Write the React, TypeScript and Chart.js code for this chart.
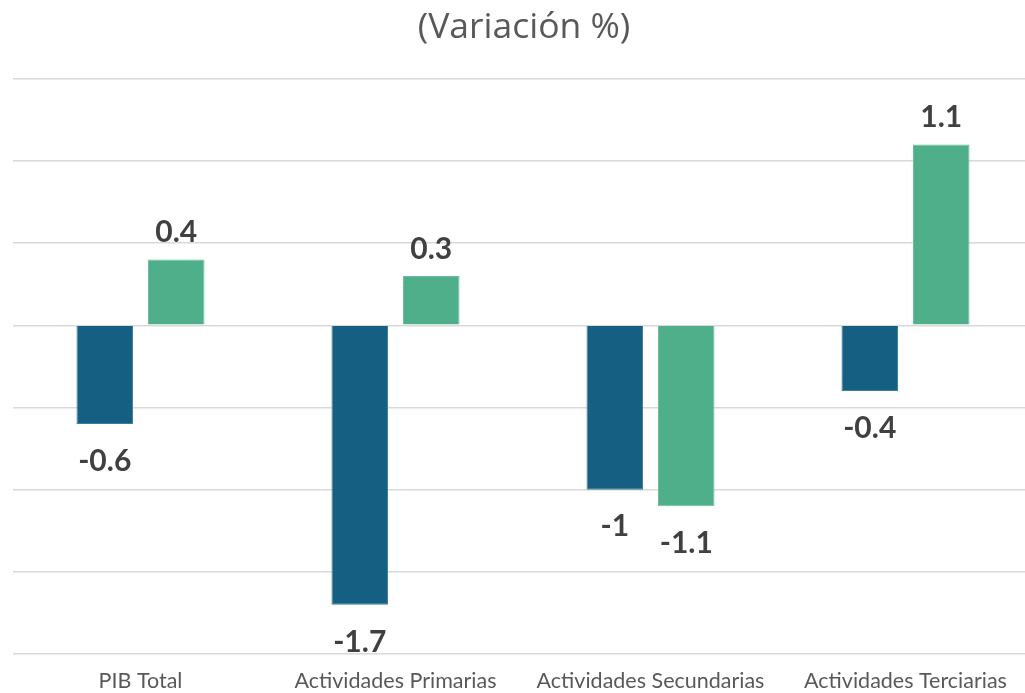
import React, { useEffect, useRef } from "react";
import { Chart, registerables } from "chart.js";

Chart.register(...registerables);

const categories = ["PIB Total", "Actividades Primarias", "Actividades Secundarias", "Actividades Terciarias"];
const seriesA = [-0.6, -1.7, -1, -0.4];
const seriesB = [0.4, 0.3, -1.1, 1.1];
const titleText = "(Variación %)";

const labelPlugin = {
  id: "valueLabels",
  afterDatasetsDraw(chart: any) {
    const ctx = chart.ctx;
    ctx.save();
    ctx.font = "bold 30px Lato";
    ctx.fillStyle = "#404040";
    ctx.textAlign = "center";
    ctx.textBaseline = "middle";
    chart.data.datasets.forEach((ds: any, di: number) => {
      const meta = chart.getDatasetMeta(di);
      meta.data.forEach((bar: any, i: number) => {
        const v = ds.data[i];
        const y = v >= 0 ? bar.y - 27 : bar.y + 37;
        ctx.fillText(String(v), bar.x, y);
      });
    });
    ctx.restore();
  },
};

export default function App() {
  const ref = useRef<HTMLCanvasElement>(null);
  useEffect(() => {
    const chart = new Chart(ref.current!, {
      type: "bar",
      data: {
        labels: categories,
        datasets: [
          { data: seriesA, backgroundColor: "#155F82", borderColor: "#3E7E9C", borderWidth: 1, categoryPercentage: 0.561, barPercentage: 0.79 },
          { data: seriesB, backgroundColor: "#4FAF8A", borderColor: "#6BBE9D", borderWidth: 1, categoryPercentage: 0.561, barPercentage: 0.79 },
        ],
      },
      options: {
        animation: false,
        responsive: false,
        layout: { padding: { left: 13, right: 0, top: 0, bottom: -15 } },
        plugins: {
          legend: { display: false },
          tooltip: { enabled: false },
          title: {
            display: true,
            text: titleText,
            color: "#595959",
            font: { family: "Open Sans", size: 35.5, weight: "normal" },
            padding: { top: 7, bottom: 29 },
          },
        },
        scales: {
          x: {
            grid: { display: false, drawTicks: false },
            border: { display: false },
            ticks: { color: "#595959", font: { family: "Lato", size: 21.5 }, padding: 14 },
          },
          y: {
            min: -2,
            max: 1.5,
            ticks: { display: false, stepSize: 0.5 },
            grid: { color: "#D9D9D9", lineWidth: 1.5, drawTicks: false },
            border: { display: false },
            afterFit: (s: any) => { s.width = 0; },
          },
        },
      },
      plugins: [
        labelPlugin,
        {
          id: "titleShift",
          beforeDraw(chart: any) {
            const t = chart.titleBlock;
            if (t) {
              t.left = 15;
              t.right = 1033;
              t.width = 1018;
            }
          },
        },
      ],
    });
    return () => chart.destroy();
  }, []);
  return (
    <div style={{ position: "fixed", left: 0, top: 0, width: 1025, height: 693, background: "#fff", overflow: "hidden" }}>
      <canvas ref={ref} width={1033} height={693} />
    </div>
  );
}
